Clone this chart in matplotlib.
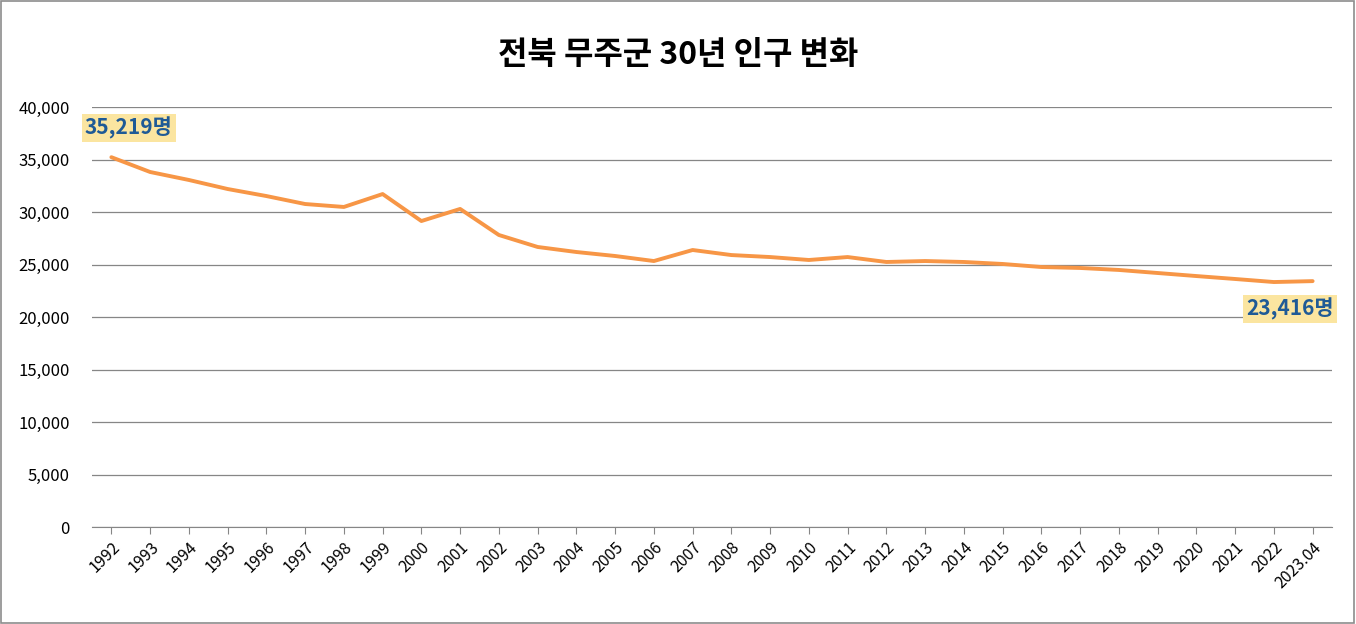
import matplotlib
matplotlib.use("Agg")
import matplotlib.pyplot as plt
from matplotlib import font_manager as fm
from matplotlib.ticker import FuncFormatter

years = [str(y) for y in range(1992, 2023)] + ["2023.04"]
population = [35219, 33810, 33050, 32190, 31520, 30760, 30480, 31710, 29140, 30290,
              27810, 26670, 26190, 25810, 25330, 26380, 25900, 25710, 25430, 25710,
              25240, 25330, 25240, 25050, 24760, 24670, 24480, 24190, 23900, 23620,
              23330, 23416]
title = "전북 무주군 30년 인구 변화"

names = sorted({f.name for f in fm.fontManager.ttflist})
kr = None
for pref in ["Noto Sans CJK KR", "Noto Sans CJK JP", "Noto Sans CJK SC"]:
    if pref in names:
        kr = pref
        break
if kr is None:
    cands = [n for n in names if "CJK" in n]
    kr = cands[0] if cands else "DejaVu Sans"
plt.rcParams["font.family"] = [kr, "DejaVu Sans"]

fig = plt.figure(figsize=(13.56, 6.24), dpi=100)
ax = fig.add_axes([92/1356, 1-527/624, 1240/1356, 420/624])
fig.patches.append(plt.Rectangle((0.0008, 0.0015), 0.998, 0.997, transform=fig.transFigure,
                                 fill=False, edgecolor="#8c8c8c", linewidth=1.2))
x = list(range(len(years)))
ax.plot(x, population, color="#F79646", linewidth=2.8, solid_capstyle="round")
ax.set_xlim(-0.5, len(years) - 0.5)
ax.set_ylim(0, 40000)
ax.set_yticks(range(0, 40001, 5000))
ax.yaxis.set_major_formatter(FuncFormatter(lambda v, p: f"{int(v):,}"))
ax.set_xticks(x)
ax.set_xticklabels(years, rotation=45, ha="right", rotation_mode="anchor", fontsize=11.5)
ax.tick_params(axis="y", labelsize=12, length=0, pad=16)
ax.tick_params(axis="x", length=5, color="#868686")
ax.grid(axis="y", color="#868686", linewidth=0.9)
ax.set_axisbelow(True)
for s in ["top", "right", "left"]:
    ax.spines[s].set_visible(False)
ax.spines["bottom"].set_color("#868686")
fig.text(0.5, 1-55/624, title, ha="center", va="center", fontsize=23, fontweight="bold")
box = dict(boxstyle="square,pad=0.15", facecolor="#FBE5A0", edgecolor="none")
ax.annotate(f"{population[0]:,}명", (x[0], population[0]), xytext=(-19, 21), textcoords="offset points",
            fontsize=15, fontweight="bold", color="#1F5A96", bbox=box, ha="left", va="center")
ax.annotate(f"{population[-1]:,}명", (x[-1], population[-1]), xytext=(-48, -20), textcoords="offset points",
            fontsize=15, fontweight="bold", color="#1F5A96", bbox=box, ha="left", va="center")
fig.savefig("out.png", dpi=100)
